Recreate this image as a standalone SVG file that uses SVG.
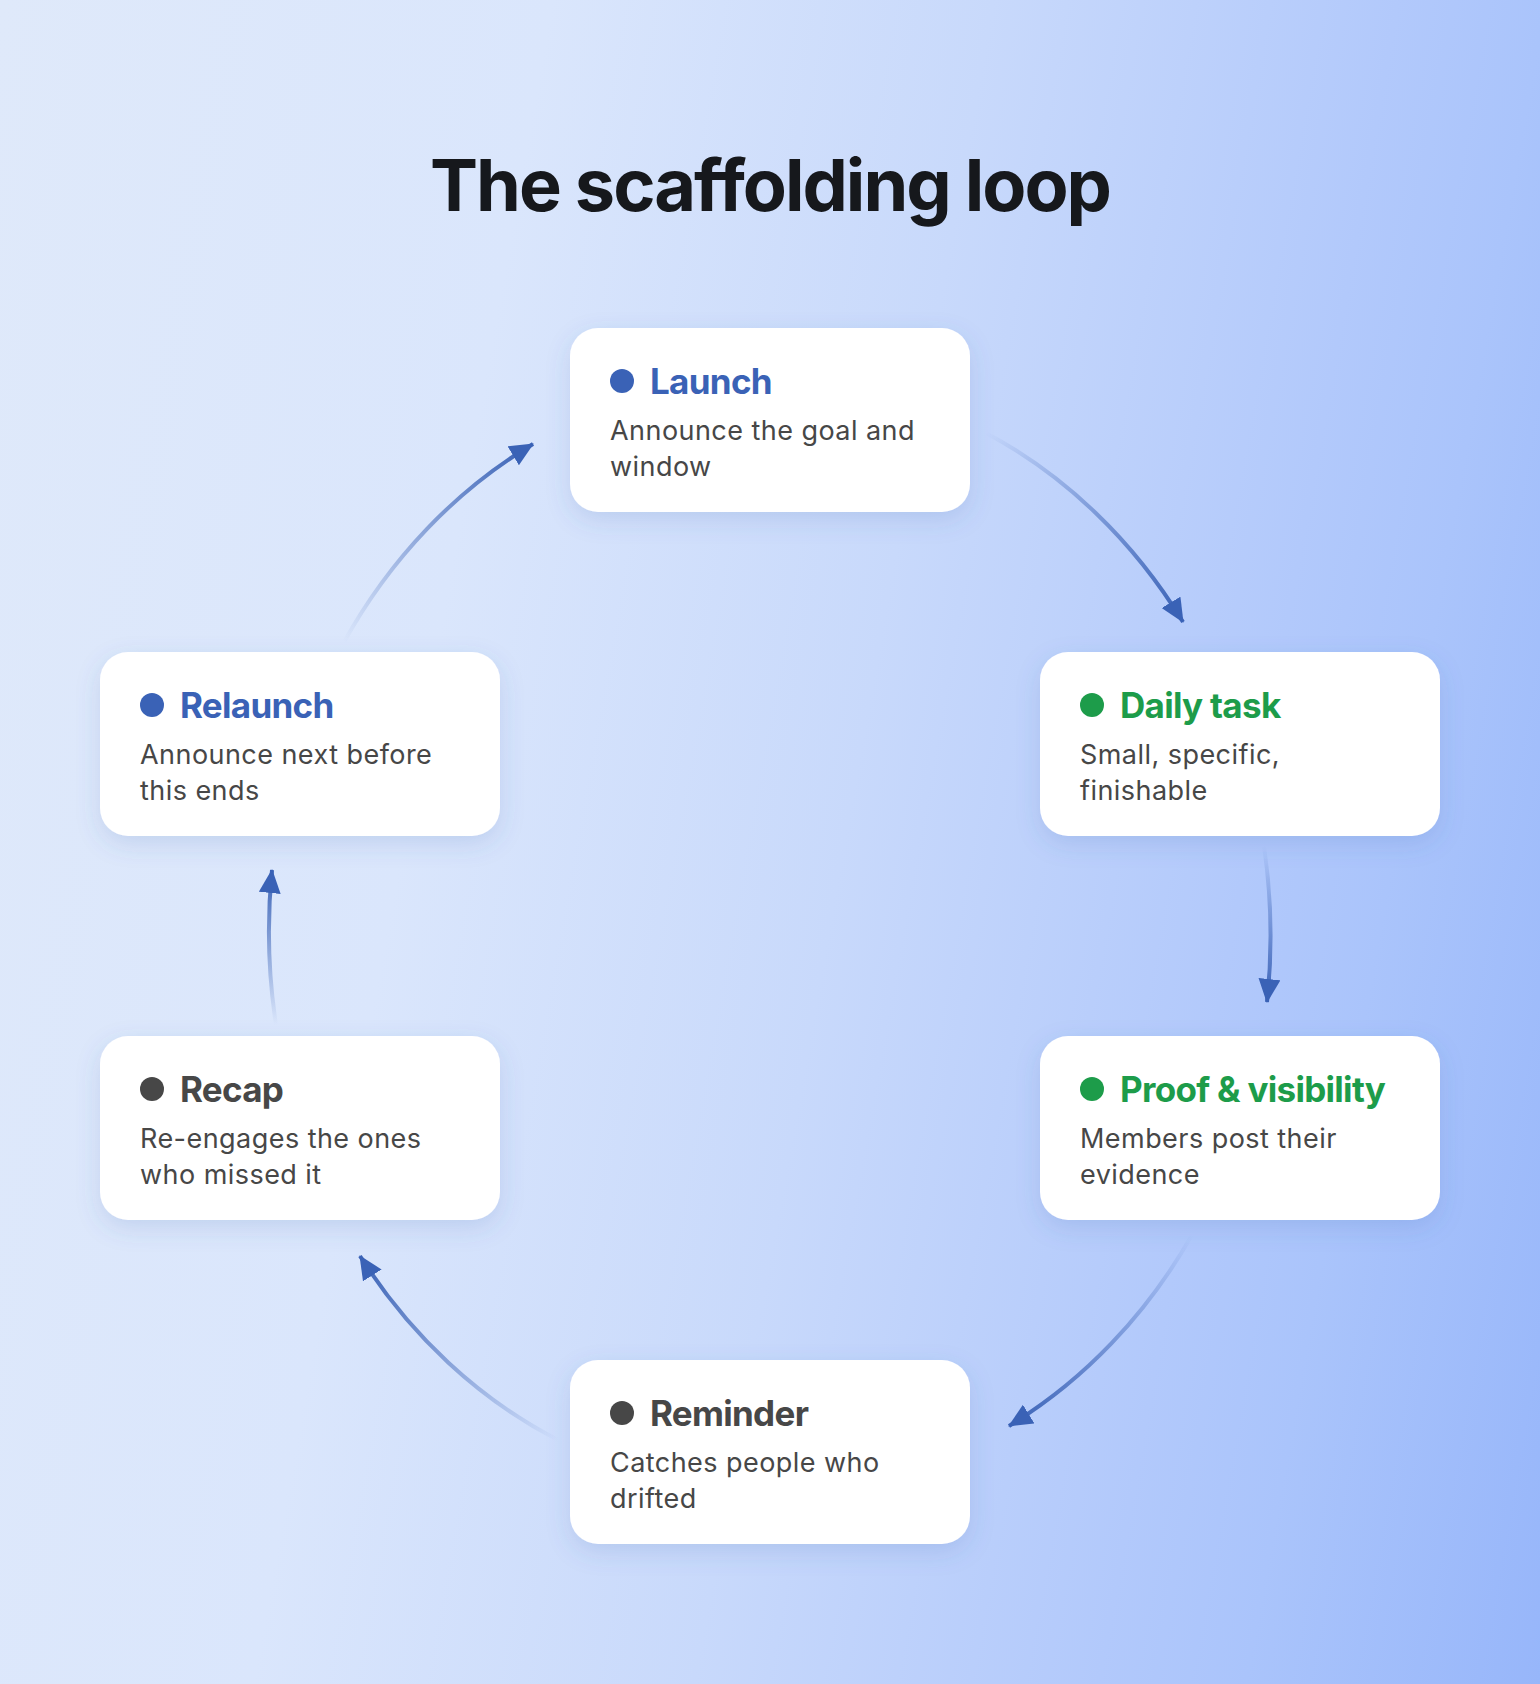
<svg xmlns="http://www.w3.org/2000/svg" width="1540" height="1684" viewBox="0 0 1540 1684">
<defs>
<linearGradient id="bg" gradientUnits="userSpaceOnUse" x1="0" y1="0" x2="1783" y2="317">
<stop offset="0" stop-color="#dfe9fa"/>
<stop offset="0.3" stop-color="#dae6fc"/>
<stop offset="0.54" stop-color="#c8d9fb"/>
<stop offset="0.58" stop-color="#c4d6fb"/>
<stop offset="0.76" stop-color="#b2c9fb"/>
<stop offset="0.84" stop-color="#aac4fb"/>
<stop offset="1" stop-color="#97b6fa"/>
</linearGradient>
<filter id="sh" x="-20%" y="-30%" width="140%" height="160%">
<feDropShadow dx="0" dy="8" stdDeviation="12" flood-color="#3d5fae" flood-opacity="0.16"/>
</filter>
<marker id="ah" viewBox="0 0 24 22" refX="23" refY="11" markerWidth="24" markerHeight="22" markerUnits="userSpaceOnUse" orient="auto">
<path d="M0,0 L24,11 L0,22 Z" fill="#3a62b6"/>
</marker>
<linearGradient id="g1" gradientUnits="userSpaceOnUse" x1="986" y1="433" x2="1183" y2="622"><stop offset="0" stop-color="#3a62b6" stop-opacity="0"/><stop offset="1" stop-color="#3a62b6"/></linearGradient>
<linearGradient id="g2" gradientUnits="userSpaceOnUse" x1="1264" y1="846" x2="1267" y2="1002"><stop offset="0" stop-color="#3a62b6" stop-opacity="0"/><stop offset="1" stop-color="#3a62b6"/></linearGradient>
<linearGradient id="g3" gradientUnits="userSpaceOnUse" x1="1192" y1="1235" x2="1009" y2="1426"><stop offset="0" stop-color="#3a62b6" stop-opacity="0"/><stop offset="1" stop-color="#3a62b6"/></linearGradient>
<linearGradient id="g4" gradientUnits="userSpaceOnUse" x1="558" y1="1440" x2="360" y2="1256"><stop offset="0" stop-color="#3a62b6" stop-opacity="0"/><stop offset="1" stop-color="#3a62b6"/></linearGradient>
<linearGradient id="g5" gradientUnits="userSpaceOnUse" x1="276" y1="1025" x2="272" y2="870"><stop offset="0" stop-color="#3a62b6" stop-opacity="0"/><stop offset="1" stop-color="#3a62b6"/></linearGradient>
<linearGradient id="g6" gradientUnits="userSpaceOnUse" x1="344" y1="642" x2="533" y2="444"><stop offset="0" stop-color="#3a62b6" stop-opacity="0"/><stop offset="1" stop-color="#3a62b6"/></linearGradient>
</defs>
<style>
.card{fill:#ffffff;filter:url(#sh)}
.ttl{font-family:Inter,"Noto Sans",sans-serif;font-weight:700;font-size:35px;letter-spacing:-0.7px}
.body{font-family:Inter,"Noto Sans",sans-serif;font-weight:400;font-size:27px;fill:#474747;letter-spacing:0.45px}
.blue{fill:#3a62b6}
.green{fill:#1d9c4a}
.gray{fill:#474747}
.arc{fill:none;stroke-width:4;marker-end:url(#ah)}
</style>
<rect width="1540" height="1684" fill="url(#bg)"/>
<text x="770" y="211" text-anchor="middle" font-family="Inter,'Noto Sans',sans-serif" font-weight="700" font-size="72" letter-spacing="-2" fill="#16181c">The scaffolding loop</text>
<g id="connectors">
<path class="arc" stroke="url(#g1)" d="M986,433 A500,557 0 0 1 1183,622"/>
<path class="arc" stroke="url(#g2)" d="M1264,846 A500,557 0 0 1 1267,1002"/>
<path class="arc" stroke="url(#g3)" d="M1192,1235 A500,557 0 0 1 1009,1426"/>
<path class="arc" stroke="url(#g4)" d="M558,1440 A500,557 0 0 1 360,1256"/>
<path class="arc" stroke="url(#g5)" d="M276,1025 A500,557 0 0 1 272,870"/>
<path class="arc" stroke="url(#g6)" d="M344,642 A500,557 0 0 1 533,444"/>
</g>
<g id="launch">
<rect class="card" x="570" y="328" width="400" height="184" rx="28"/>
<circle class="blue" cx="622" cy="381" r="12"/>
<text class="ttl blue" x="650" y="394">Launch</text>
<text class="body" x="610" y="440">Announce the goal and</text>
<text class="body" x="610" y="476">window</text>
</g>
<g id="daily-task">
<rect class="card" x="1040" y="652" width="400" height="184" rx="28"/>
<circle class="green" cx="1092" cy="705" r="12"/>
<text class="ttl green" x="1120" y="718">Daily task</text>
<text class="body" x="1080" y="764">Small, specific,</text>
<text class="body" x="1080" y="800">finishable</text>
</g>
<g id="proof">
<rect class="card" x="1040" y="1036" width="400" height="184" rx="28"/>
<circle class="green" cx="1092" cy="1089" r="12"/>
<text class="ttl green" x="1120" y="1102">Proof &amp; visibility</text>
<text class="body" x="1080" y="1148">Members post their</text>
<text class="body" x="1080" y="1184">evidence</text>
</g>
<g id="reminder">
<rect class="card" x="570" y="1360" width="400" height="184" rx="28"/>
<circle class="gray" cx="622" cy="1413" r="12"/>
<text class="ttl gray" x="650" y="1426">Reminder</text>
<text class="body" x="610" y="1472">Catches people who</text>
<text class="body" x="610" y="1508">drifted</text>
</g>
<g id="recap">
<rect class="card" x="100" y="1036" width="400" height="184" rx="28"/>
<circle class="gray" cx="152" cy="1089" r="12"/>
<text class="ttl gray" x="180" y="1102">Recap</text>
<text class="body" x="140" y="1148">Re-engages the ones</text>
<text class="body" x="140" y="1184">who missed it</text>
</g>
<g id="relaunch">
<rect class="card" x="100" y="652" width="400" height="184" rx="28"/>
<circle class="blue" cx="152" cy="705" r="12"/>
<text class="ttl blue" x="180" y="718">Relaunch</text>
<text class="body" x="140" y="764">Announce next before</text>
<text class="body" x="140" y="800">this ends</text>
</g>
</svg>
